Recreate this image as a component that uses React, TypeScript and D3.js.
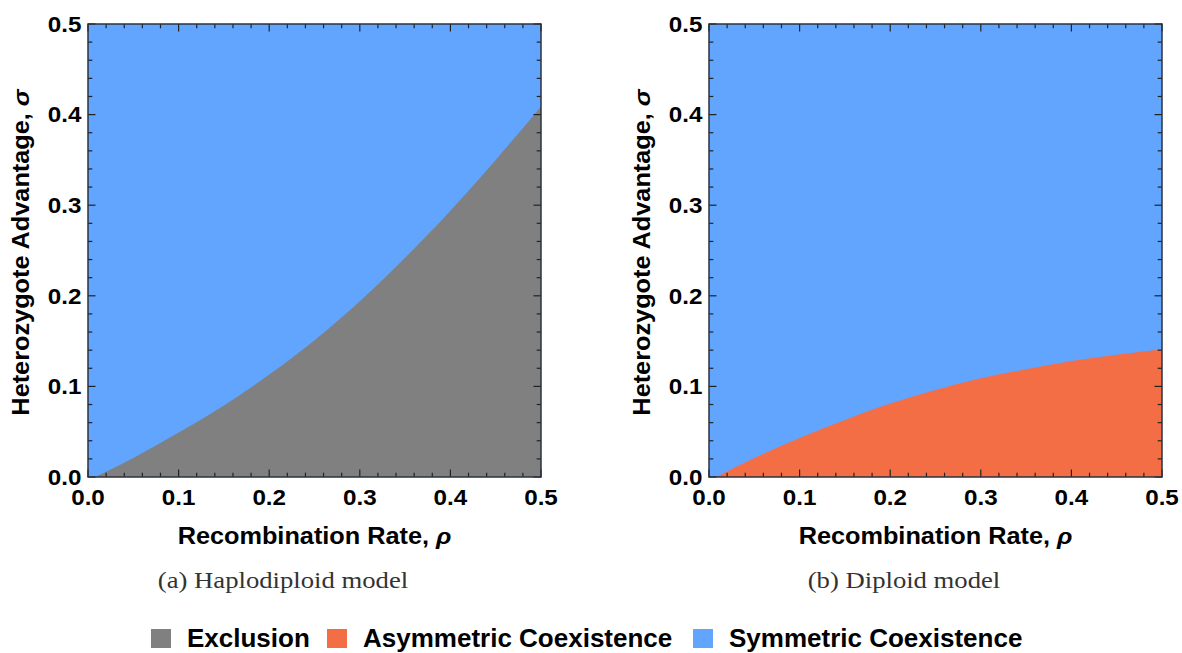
import React, { useRef, useEffect } from 'react';
import * as d3 from 'd3';

// recombination rate samples
const rho = [0.008, 0.05, 0.1, 0.15, 0.2, 0.25, 0.3, 0.35, 0.4, 0.45, 0.5];
// boundary exclusion / symmetric coexistence (haplodiploid)
const haploSigma = [0, 0.021, 0.049, 0.079, 0.113, 0.151, 0.194, 0.242, 0.294, 0.350, 0.409];
// boundary asymmetric / symmetric coexistence (diploid)
const diploSigma = [0, 0.021, 0.043, 0.063, 0.081, 0.096, 0.109, 0.119, 0.128, 0.135, 0.141];

const tickLabels = ['0.0', '0.1', '0.2', '0.3', '0.4', '0.5'];
const legendLabels = ['Exclusion', 'Asymmetric Coexistence', 'Symmetric Coexistence'];
const captions = ['(a) Haplodiploid model', '(b) Diploid model'];

const COLORS = {
  exclusion: '#808080',
  asym: '#f46e45',
  sym: '#61a5fe',
};

const W = 1182;
const H = 653;
const SANS = '"Liberation Sans", Arial, Helvetica, sans-serif';
const STRETCH = 1.1;

function drawPanel(g, left, sigma, fill, caption) {
  const x = d3.scaleLinear().domain([0, 0.5]).range([left, left + 453]);
  const y = d3.scaleLinear().domain([0, 0.5]).range([477, 24]);

  g.append('rect')
    .attr('x', x(0)).attr('y', y(0.5))
    .attr('width', x(0.5) - x(0)).attr('height', y(0) - y(0.5))
    .attr('fill', COLORS.sym);

  const pts = rho.map((r, i) => [r, sigma[i]]);
  const area = d3.area()
    .x(d => x(d[0]))
    .y0(y(0))
    .y1(d => y(d[1]))
    .curve(d3.curveMonotoneX);
  g.append('path')
    .attr('d', area(pts))
    .attr('fill', fill);

  // ticks on all four sides, pointing in
  const minor = d3.range(0, 0.5001, 0.02);
  const ticks = g.append('g').attr('stroke', '#222').attr('stroke-width', 1.2);
  minor.forEach(v => {
    const major = Math.abs(Math.round(v * 10) - v * 10) < 1e-6;
    const len = major ? 7.5 : 4.3;
    ticks.append('line').attr('x1', x(v)).attr('x2', x(v)).attr('y1', y(0)).attr('y2', y(0) - len);
    ticks.append('line').attr('x1', x(v)).attr('x2', x(v)).attr('y1', y(0.5)).attr('y2', y(0.5) + len);
    ticks.append('line').attr('y1', y(v)).attr('y2', y(v)).attr('x1', x(0)).attr('x2', x(0) + len);
    ticks.append('line').attr('y1', y(v)).attr('y2', y(v)).attr('x1', x(0.5)).attr('x2', x(0.5) - len);
  });

  g.append('rect')
    .attr('x', x(0)).attr('y', y(0.5))
    .attr('width', x(0.5) - x(0)).attr('height', y(0) - y(0.5))
    .attr('fill', 'none')
    .attr('stroke', '#2b3340')
    .attr('stroke-width', 1.5);

  const vals = tickLabels.map(Number);

  g.selectAll('text.xt').data(vals).enter().append('text')
    .attr('class', 'xt')
    .attr('transform', d => `translate(${x(d)},505) scale(${STRETCH},1)`)
    .attr('text-anchor', 'middle')
    .style('font-family', SANS).style('font-weight', 'bold').style('font-size', '22px')
    .text((d, i) => tickLabels[i]);

  g.selectAll('text.yt').data(vals).enter().append('text')
    .attr('class', 'yt')
    .attr('transform', d => `translate(${x(0) - 6.5},${y(d) + 7.8}) scale(${STRETCH},1)`)
    .attr('text-anchor', 'end')
    .style('font-family', SANS).style('font-weight', 'bold').style('font-size', '22px')
    .text((d, i) => tickLabels[i]);

  const xt = g.append('text')
    .attr('transform', `translate(${(x(0) + x(0.5)) / 2},544) scale(1.1,1)`)
    .attr('text-anchor', 'middle')
    .style('font-family', SANS).style('font-weight', 'bold').style('font-size', '23px');
  xt.append('tspan').text('Recombination Rate, ');
  xt.append('tspan').style('font-style', 'italic').text('ρ');

  const yt = g.append('text')
    .attr('transform', `translate(${x(0) - 59},${(y(0) + y(0.5)) / 2 + 2}) rotate(-90) scale(1.1,1)`)
    .attr('text-anchor', 'middle')
    .style('font-family', SANS).style('font-weight', 'bold').style('font-size', '23px');
  yt.append('tspan').text('Heterozygote Advantage, ');
  yt.append('tspan').style('font-style', 'italic').text('σ');

  g.append('text')
    .attr('transform', `translate(${x(0) + 195},588) scale(1.16,1)`)
    .attr('text-anchor', 'middle')
    .style('font-family', '"Liberation Serif", "Times New Roman", serif')
    .style('font-size', '23px')
    .attr('fill', '#333')
    .text(caption);
}

export default function App() {
  const ref = useRef(null);

  useEffect(() => {
    const svg = d3.select(ref.current);
    svg.selectAll('*').remove();

    drawPanel(svg.append('g'), 88, haploSigma, COLORS.exclusion, captions[0]);
    drawPanel(svg.append('g'), 709, diploSigma, COLORS.asym, captions[1]);

    const legendColors = [COLORS.exclusion, COLORS.asym, COLORS.sym];
    const squareX = [151, 327, 693];
    const legend = svg.append('g');
    legendLabels.forEach((label, i) => {
      legend.append('rect')
        .attr('x', squareX[i]).attr('y', 629)
        .attr('width', 20).attr('height', 19)
        .attr('fill', legendColors[i]);
      legend.append('text')
        .attr('x', squareX[i] + 36).attr('y', 647)
        .style('font-family', SANS).style('font-weight', 'bold').style('font-size', '26px')
        .text(label);
    });
  }, []);

  return (
    <svg ref={ref} width={W} height={H} style={{ display: 'block', position: 'absolute', left: 0, top: 0 }} />
  );
}
